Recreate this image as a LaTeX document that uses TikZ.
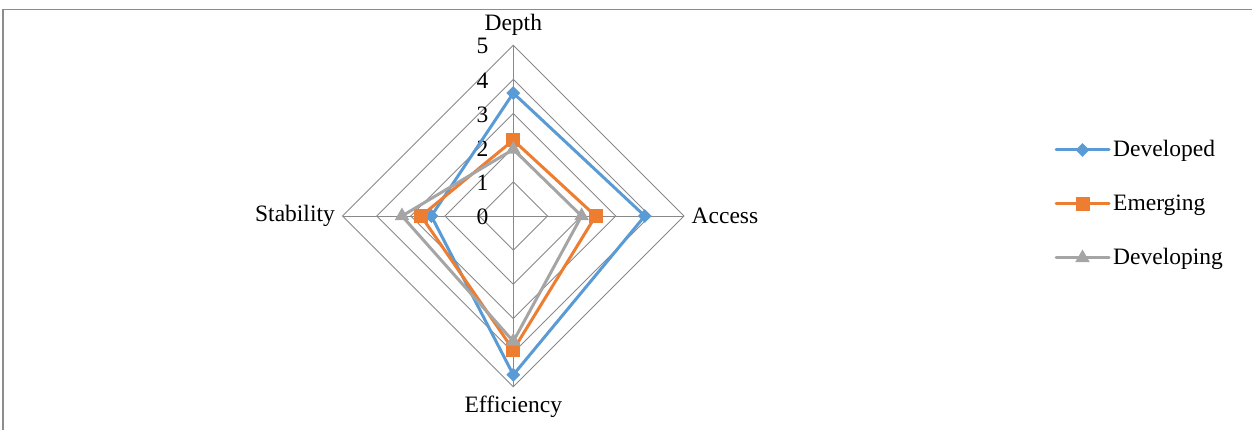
\documentclass[tikz,border=0pt]{standalone}
\usepackage{fontspec}
\setmainfont{Liberation Serif}
\usetikzlibrary{shapes.geometric}
\definecolor{cBlue}{HTML}{5B9BD5}
\definecolor{cOrange}{HTML}{ED7D31}
\definecolor{cGray}{HTML}{A5A5A5}
\definecolor{cGrid}{HTML}{898989}
\definecolor{cFrame}{HTML}{8C8C8C}
\tikzset{
  lbl/.style={font=\fontsize{23.5}{28}\selectfont, inner sep=0pt},
  gridline/.style={draw=cGrid, line width=0.9pt},
  series/.style={line width=3pt, line join=round},
  mkdiamond/.style={diamond, fill=cBlue, inner sep=0pt, minimum width=14pt, minimum height=14pt},
  mksquare/.style={rectangle, fill=cOrange, inner sep=0pt, minimum size=14pt},
  mktriangle/.style={regular polygon, regular polygon sides=3, fill=cGray, inner sep=0pt, minimum size=17pt},
}
\begin{document}
\begin{tikzpicture}[x=1pt, y=-1pt]
\useasboundingbox (0,0) rectangle (1252,430);
% frame
\draw[draw=cFrame, line width=1.5pt] (3,430) -- (3,9.5) -- (1253,9.5);
\def\cx{513.3}
\def\cy{216}
\def\u{34.15}
\coordinate (C) at (\cx,\cy);
% grid
\foreach \k in {1,...,5}{
  \draw[gridline] ({\cx},{\cy-\k*\u}) -- ({\cx+\k*\u},{\cy}) -- ({\cx},{\cy+\k*\u}) -- ({\cx-\k*\u},{\cy}) -- cycle;
}
\coordinate (tipD) at ({\cx},{\cy-5*\u});
\coordinate (tipA) at ({\cx+5*\u},{\cy});
\coordinate (tipE) at ({\cx},{\cy+5*\u});
\coordinate (tipS) at ({\cx-5*\u},{\cy});
\draw[gridline] (C) -- (tipD);
\draw[gridline] (C) -- (tipA);
\draw[gridline] (C) -- (tipE);
\draw[gridline] (C) -- (tipS);
% scale numbers
\foreach \k in {0,...,5}{
  \node[lbl, anchor=east] (num\k) at ({488.5},{\cy-\k*\u+1}) {\k};
}
% axis labels
\node[lbl] (lD) at (513.3,25) {Depth};
\node[lbl, anchor=west] (lA) at (691.5,216) {Access};
\node[lbl, anchor=east] (lS) at (335,216) {Stability};
\node[lbl] (lE) at (513.3,407) {Efficiency};
% data points
% Developed
\coordinate (bD) at ({\cx},{\cy-3.6*\u});
\coordinate (bA) at ({\cx+3.85*\u},{\cy});
\coordinate (bE) at ({\cx},{\cy+4.65*\u});
\coordinate (bS) at ({\cx-2.4*\u},{\cy});
% Emerging
\coordinate (oD) at ({\cx},{\cy-2.22*\u});
\coordinate (oA) at ({\cx+2.41*\u},{\cy});
\coordinate (oE) at ({\cx},{\cy+3.92*\u});
\coordinate (oS) at ({\cx-2.7*\u},{\cy});
% Developing
\coordinate (gD) at ({\cx},{\cy-1.95*\u});
\coordinate (gA) at ({\cx+2.0*\u},{\cy});
\coordinate (gE) at ({\cx},{\cy+3.67*\u});
\coordinate (gS) at ({\cx-3.26*\u},{\cy});
\draw[series, cBlue] (bD) -- (bA) -- (bE) -- (bS) -- cycle;
\foreach \p in {bD,bA,bE,bS}{ \node[mkdiamond] (m\p) at (\p) {}; }
\draw[series, cOrange] (oD) -- (oA) -- (oE) -- (oS) -- cycle;
\foreach \p in {oD,oA,oE,oS}{ \node[mksquare] (m\p) at (\p) {}; }
\draw[series, cGray] (gD) -- (gA) -- (gE) -- (gS) -- cycle;
\foreach \p in {gD,gA,gE,gS}{ \node[mktriangle] (m\p) at (\p) {}; }
% legend
\coordinate (l1a) at (1056,150); \coordinate (l1b) at (1109,150);
\coordinate (l2a) at (1056,204); \coordinate (l2b) at (1109,204);
\coordinate (l3a) at (1056,258); \coordinate (l3b) at (1109,258);
\draw[series, cBlue, line cap=round] (l1a) -- (l1b);
\node[mkdiamond] (lm1) at (1082.5,150) {};
\node[lbl, anchor=west] (lt1) at (1113,151) {Developed};
\draw[series, cOrange, line cap=round] (l2a) -- (l2b);
\node[mksquare] (lm2) at (1082.5,204) {};
\node[lbl, anchor=west] (lt2) at (1113,205) {Emerging};
\draw[series, cGray, line cap=round] (l3a) -- (l3b);
\node[mktriangle] (lm3) at (1082.5,258) {};
\node[lbl, anchor=west] (lt3) at (1113,259) {Developing};
\end{tikzpicture}
\end{document}
